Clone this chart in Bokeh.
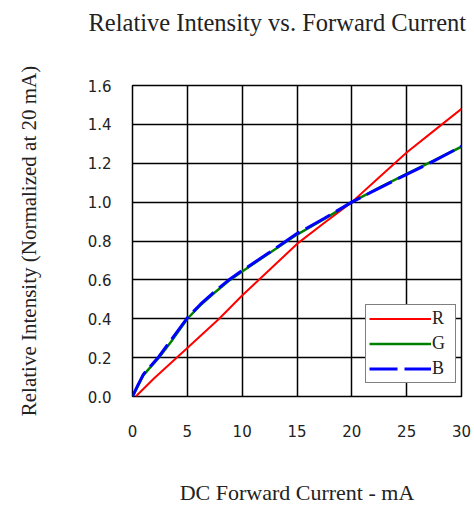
from bokeh.plotting import figure
from bokeh.models import Range1d, FixedTicker, PrintfTickFormatter, Legend, LegendItem, Title
from bokeh.embed import file_html
from bokeh.resources import INLINE

# ---- data ----
x_ticks = [0, 5, 10, 15, 20, 25, 30]
y_ticks = [0.0, 0.2, 0.4, 0.6, 0.8, 1.0, 1.2, 1.4, 1.6]

current_r = [0.3, 2, 4, 5, 7.9, 10, 12.5, 15, 17.5, 20, 22.5, 25, 27.5, 30]
intensity_r = [0.0, 0.095, 0.198, 0.25, 0.4, 0.52, 0.652, 0.785, 0.894, 1.0, 1.128, 1.255, 1.368, 1.48]

current_g = [0, 0.5, 1, 1.7, 2.4, 3.5, 5, 6.2, 7.5, 8.9, 10, 12.5, 15, 17.5, 20, 22.5, 25, 27.5, 30]
intensity_g = [0.0, 0.055, 0.11, 0.155, 0.2, 0.28, 0.4, 0.47, 0.535, 0.6, 0.643, 0.738, 0.833, 0.913,
               1.0, 1.075, 1.145, 1.215, 1.285]

current_b = [0, 0.5, 1, 1.7, 2.4, 3.5, 5, 6.2, 7.5, 8.9, 10, 12.5, 15, 17.5, 20, 22.5, 25, 27.5, 30]
intensity_b = [0.0, 0.06, 0.115, 0.16, 0.205, 0.29, 0.405, 0.475, 0.54, 0.605, 0.648, 0.742, 0.838, 0.917,
               1.0, 1.072, 1.143, 1.212, 1.287]

SERIF = "Liberation Serif"
SANS = "DejaVu Sans"

p = figure(width=474, height=507, output_backend="svg", toolbar_location=None,
           x_range=Range1d(0, 30), y_range=Range1d(0, 1.6),
           min_border_left=132, min_border_right=13, min_border_top=85, min_border_bottom=108)

spacer = Title(text=" ", text_font_size="43px", standoff=0)
main_title = Title(text="Relative Intensity vs. Forward Current", standoff=0,
                   text_font=SERIF, text_font_size="24.5px", text_font_style="normal",
                   text_color="#222222", align="left", offset=-44)
p.add_layout(spacer, "above")
p.add_layout(main_title, "above")

p.outline_line_color = "black"
p.outline_line_width = 1.5
p.background_fill_color = "white"
p.border_fill_color = "white"

for ax in (p.xaxis, p.yaxis):
    ax.axis_line_color = None
    ax.major_tick_line_color = None
    ax.minor_tick_line_color = None
    ax.major_label_text_font = SANS
    ax.major_label_text_font_size = "15px"
    ax.major_label_text_color = "#222222"
    ax.axis_label_text_font = SERIF
    ax.axis_label_text_font_style = "normal"
    ax.axis_label_text_color = "#222222"

p.xaxis.ticker = FixedTicker(ticks=x_ticks)
p.yaxis.ticker = FixedTicker(ticks=y_ticks)
p.yaxis.formatter = PrintfTickFormatter(format="%.1f")
p.xaxis.major_label_standoff = 22
p.yaxis.major_label_standoff = 15
p.xaxis.axis_label = "DC Forward Current - mA"
p.xaxis.axis_label_text_font_size = "22px"
p.xaxis.axis_label_standoff = 40
p.yaxis.axis_label = "Relative Intensity (Normalized at 20 mA)"
p.yaxis.axis_label_text_font_size = "21px"
p.yaxis.axis_label_standoff = 44

for g in (p.xgrid, p.ygrid):
    g.grid_line_color = "black"
    g.grid_line_width = 1.5
    g.grid_line_alpha = 1.0

lr = p.line(current_r, intensity_r, line_color="red", line_width=2)
lg = p.line(current_g, intensity_g, line_color="green", line_width=2.5)
lb = p.line(current_b, intensity_b, line_color="blue", line_width=3, line_dash="28 7")

legend = Legend(items=[LegendItem(label="R", renderers=[lr]),
                       LegendItem(label="G", renderers=[lg]),
                       LegendItem(label="B", renderers=[lb])],
                location=(233, 13))
legend.label_text_font = SERIF
legend.label_text_font_size = "18px"
legend.label_text_color = "#222222"
legend.glyph_width = 62
legend.glyph_height = 21
legend.label_height = 21
legend.label_standoff = 1
legend.spacing = 4
legend.padding = 3
legend.margin = 0
legend.border_line_color = "black"
legend.border_line_width = 1.5
legend.background_fill_alpha = 1.0
p.add_layout(legend, "center")

open("out.html", "w").write(file_html(p, INLINE))
